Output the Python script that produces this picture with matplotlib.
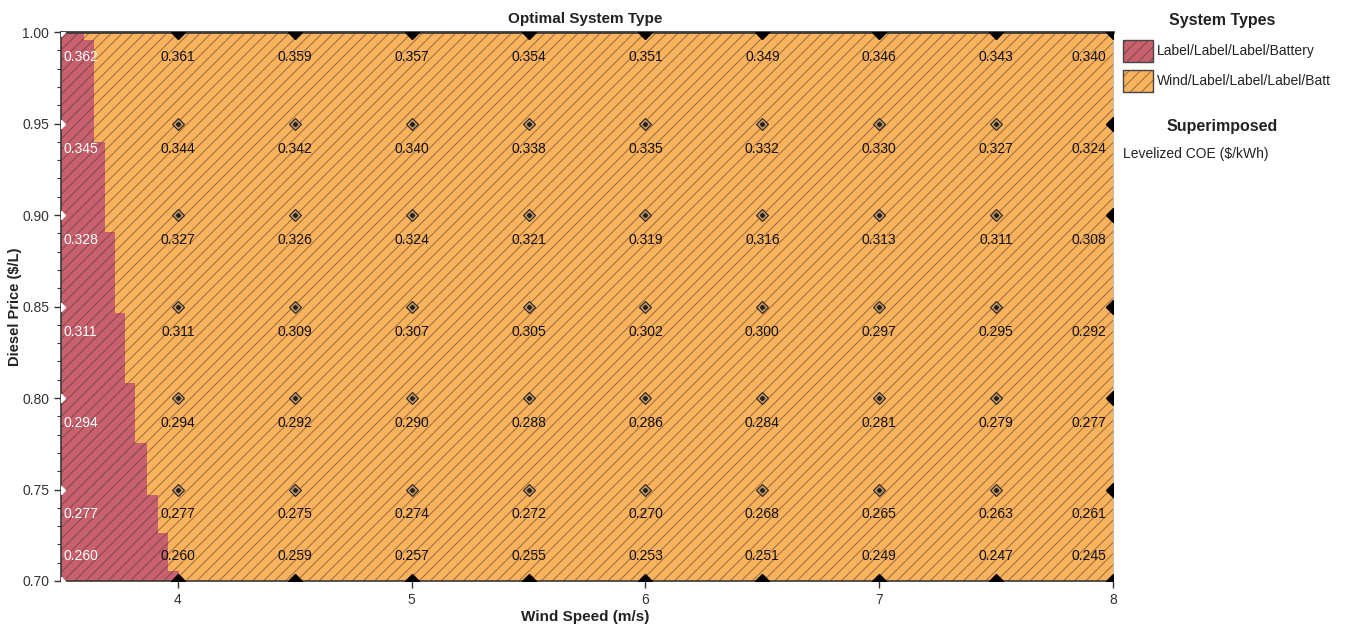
import numpy as np
import matplotlib
matplotlib.use("Agg")
import matplotlib.pyplot as plt
from matplotlib.patches import Rectangle

# sensitivity grid
wind_speeds = [3.5, 4.0, 4.5, 5.0, 5.5, 6.0, 6.5, 7.0, 7.5, 8.0]
diesel_prices = [1.00, 0.95, 0.90, 0.85, 0.80, 0.75, 0.70]

# levelized COE ($/kWh), one list per wind speed, rows follow diesel_prices
coe_35 = [0.362, 0.345, 0.328, 0.311, 0.294, 0.277, 0.260]
coe_40 = [0.361, 0.344, 0.327, 0.311, 0.294, 0.277, 0.260]
coe_45 = [0.359, 0.342, 0.326, 0.309, 0.292, 0.275, 0.259]
coe_50 = [0.357, 0.340, 0.324, 0.307, 0.290, 0.274, 0.257]
coe_55 = [0.354, 0.338, 0.321, 0.305, 0.288, 0.272, 0.255]
coe_60 = [0.351, 0.335, 0.319, 0.302, 0.286, 0.270, 0.253]
coe_65 = [0.349, 0.332, 0.316, 0.300, 0.284, 0.268, 0.251]
coe_70 = [0.346, 0.330, 0.313, 0.297, 0.281, 0.265, 0.249]
coe_75 = [0.343, 0.327, 0.311, 0.295, 0.279, 0.263, 0.247]
coe_80 = [0.340, 0.324, 0.308, 0.292, 0.277, 0.261, 0.245]
coe_cols = [coe_35, coe_40, coe_45, coe_50, coe_55, coe_60, coe_65, coe_70, coe_75, coe_80]

# boundary between system types (wind speed where wind system becomes optimal)
price_edges = [0.700, 0.7055, 0.7262, 0.747, 0.7754, 0.8082, 0.8464, 0.8907, 0.9399, 0.9956, 1.000]
wind_boundary = [4.004, 3.957, 3.915, 3.868, 3.816, 3.774, 3.731, 3.688, 3.641, 3.598]

system_types = ["Label/Label/Label/Battery", "Wind/Label/Label/Label/Batt"]
type_colors = ["#c9606e", "#fab25c"]
hatch_col = (0.25, 0.2, 0.15, 0.55)

plt.rcParams['hatch.linewidth'] = 0.7
plt.rcParams['font.family'] = ['Liberation Sans', 'DejaVu Sans']
bold = dict(family=['Liberation Sans Narrow', 'Liberation Sans', 'DejaVu Sans'], weight='bold')

W, H = 1348, 628
fig = plt.figure(figsize=(W / 100, H / 100), dpi=100)
ax = fig.add_axes([61 / W, 1 - 581 / H, (1113 - 61) / W, (581 - 32) / H])

xmin, xmax = wind_speeds[0], wind_speeds[-1]
bnd = wind_boundary + [wind_boundary[-1]]
ax.fill_betweenx(price_edges, xmin, bnd, step='post', facecolor=type_colors[0],
                 edgecolor=hatch_col, hatch='///', lw=0)
ax.fill_betweenx(price_edges, bnd, xmax, step='post', facecolor=type_colors[1],
                 edgecolor=hatch_col, hatch='///', lw=0)

ax.set_xlim(xmin, xmax)
ax.set_ylim(0.70, 1.00)

# markers at sensitivity points
for xi, ws in enumerate(wind_speeds):
    for yi, dp in enumerate(diesel_prices):
        edge = xi == len(wind_speeds) - 1 or yi == 0 or yi == len(diesel_prices) - 1
        if xi == 0:
            ax.plot(ws, dp, marker='D', ms=4.5, color='white', mec='white', zorder=4)
        elif edge:
            ax.plot(ws, dp, marker='D', ms=7, color='black', mec='black', zorder=4)
        else:
            ax.plot(ws, dp, marker='D', ms=6, mfc='#c79a62', mec='#222222', mew=0.8, zorder=4)
            ax.plot(ws, dp, marker='D', ms=2.2, color='#222222', zorder=5)

        # COE label
        val = coe_cols[xi][yi]
        dy = 18 if yi == len(diesel_prices) - 1 else -18
        if xi == 0:
            ha, dx, col = 'left', 1.5, 'white'
        elif xi == len(wind_speeds) - 1:
            ha, dx, col = 'right', -5, '#111111'
        else:
            ha, dx, col = 'center', 0, '#111111'
        ax.annotate(f"{val:.3f}", (ws, dp), xytext=(dx, dy), textcoords='offset points',
                    ha=ha, va='center', fontsize=10, color=col, zorder=6)

# axes styling
ax.set_xticks([4, 5, 6, 7, 8])
ax.set_xticklabels(['4', '5', '6', '7', '8'])
ax.set_yticks(diesel_prices)
ax.set_yticklabels([f"{p:.2f}" for p in diesel_prices])
ax.set_yticks(np.arange(0.70, 1.001, 0.01), minor=True)
ax.tick_params(axis='both', which='major', direction='out', length=5, width=1,
               color='#333333', labelcolor='#333333', labelsize=10)
ax.tick_params(axis='y', which='minor', direction='out', length=3, width=0.8, color='#333333')
ax.tick_params(axis='x', which='minor', length=0)
for s in ['left', 'bottom', 'top']:
    ax.spines[s].set_color('#3a3a3a')
    ax.spines[s].set_linewidth(1.2)
ax.spines['top'].set_linewidth(2)
ax.spines['right'].set_color('#bbbbbb')

fig.text(585 / W, 1 - 19 / H, "Optimal System Type", ha='center', va='center',
         fontsize=11, color='#222222', **bold)
fig.text(585 / W, 1 - 617 / H, "Wind Speed (m/s)", ha='center', va='center',
         fontsize=11, color='#222222', **bold)
fig.text(15 / W, 1 - 307 / H, "Diesel Price ($/L)", ha='center', va='center', rotation=90,
         fontsize=10.5, color='#222222', **bold)

# legend panel
fig.text(1222 / W, 1 - 20 / H, "System Types", ha='center', va='center',
         fontsize=11.5, color='#222222', **bold)
for i, (name, c) in enumerate(zip(system_types, type_colors)):
    y0 = 40 + i * 30
    fig.patches.append(Rectangle((1123 / W, 1 - (y0 + 22) / H), 30 / W, 22 / H,
                                 transform=fig.transFigure, facecolor=c,
                                 edgecolor=hatch_col, hatch='///', lw=0))
    fig.patches.append(Rectangle((1123 / W, 1 - (y0 + 22) / H), 30 / W, 22 / H,
                                 transform=fig.transFigure, facecolor='none',
                                 edgecolor='#444444', lw=1))
    fig.text(1157 / W, 1 - (y0 + 11) / H, name, ha='left', va='center',
             fontsize=10, color='#222222')
fig.text(1222 / W, 1 - 127 / H, "Superimposed", ha='center', va='center',
         fontsize=11.5, color='#222222', **bold)
fig.text(1123 / W, 1 - 154 / H, "Levelized COE ($/kWh)", ha='left', va='center',
         fontsize=10, color='#222222')

fig.savefig("out.png", dpi=100)
